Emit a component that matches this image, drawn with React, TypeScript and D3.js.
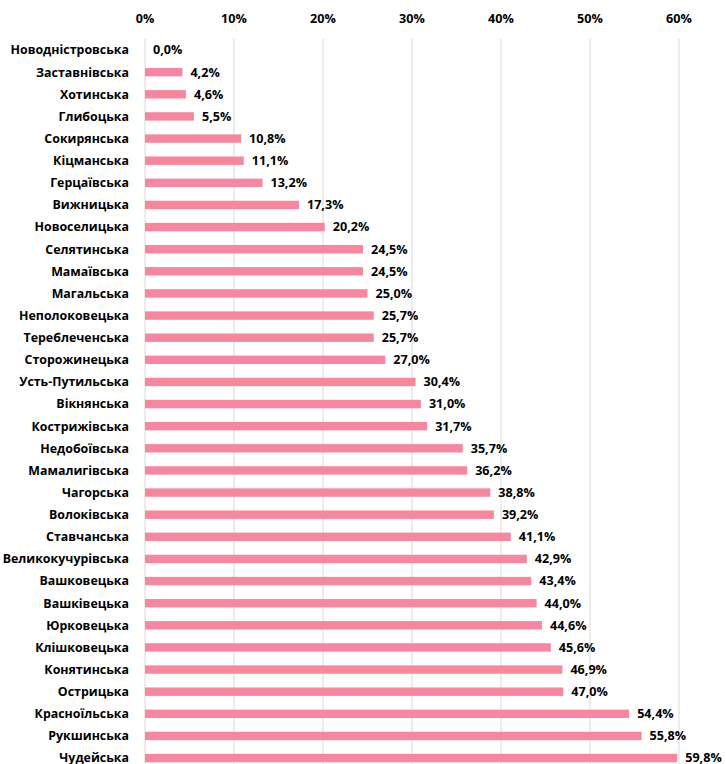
import React from "react";
import * as d3 from "d3";

const categories = [
  "Новодністровська", "Заставнівська", "Хотинська", "Глибоцька", "Сокирянська",
  "Кіцманська", "Герцаївська", "Вижницька", "Новоселицька", "Селятинська",
  "Мамаївська", "Магальська", "Неполоковецька", "Тереблеченська", "Сторожинецька",
  "Усть-Путильська", "Вікнянська", "Кострижівська", "Недобоївська", "Мамалигівська",
  "Чагорська", "Волоківська", "Ставчанська", "Великокучурівська", "Вашковецька",
  "Вашківецька", "Юрковецька", "Клішковецька", "Конятинська", "Острицька",
  "Красноїльська", "Рукшинська", "Чудейська",
];
const values = [
  0.0, 4.2, 4.6, 5.5, 10.8, 11.1, 13.2, 17.3, 20.2, 24.5, 24.5, 25.0, 25.7, 25.7, 27.0,
  30.4, 31.0, 31.7, 35.7, 36.2, 38.8, 39.2, 41.1, 42.9, 43.4, 44.0, 44.6, 45.6, 46.9,
  47.0, 54.4, 55.8, 59.8,
];
const ticks = [0, 10, 20, 30, 40, 50, 60];

const W = 726;
const H = 764;
const left = 145;
const right = 679;
const top = 39;
const step = 22.125;

export default function App() {
  const x = d3.scaleLinear().domain([0, 60]).range([left, right]);
  const y = d3
    .scaleBand<string>()
    .domain(categories)
    .range([top, top + step * categories.length])
    .paddingInner(0.62)
    .paddingOuter(0.31);
  const font = "'Open Sans', 'DejaVu Sans', sans-serif";
  return (
    <svg
      width={W}
      height={H}
      style={{ position: "absolute", left: 0, top: 0, background: "#fff" }}
      fontFamily={font}
    >
      {ticks.map((t) => (
        <g key={t}>
          <line x1={x(t)} x2={x(t)} y1={top} y2={H} stroke="#d9d9d9" strokeWidth={1} />
          <text x={x(t)} y={23} textAnchor="middle" fontSize={12.6} fontWeight={700} fill="#000">
            {t}%
          </text>
        </g>
      ))}
      {categories.map((c, i) => {
        const yy = y(c)!;
        const cy = yy + y.bandwidth() / 2;
        const v = values[i];
        return (
          <g key={c}>
            {v > 0 && (
              <rect x={x(0)} y={yy} width={x(v) - x(0)} height={y.bandwidth()} fill="#F7879F" />
            )}
            <text x={129} y={cy} dy="0.35em" textAnchor="end" fontSize={12.4} fontWeight={700} fill="#000">
              {c}
            </text>
            <text x={x(v) + 8} y={cy} dy="0.35em" fontSize={12.6} fontWeight={700} fill="#000">
              {v.toFixed(1).replace(".", ",")}%
            </text>
          </g>
        );
      })}
    </svg>
  );
}
